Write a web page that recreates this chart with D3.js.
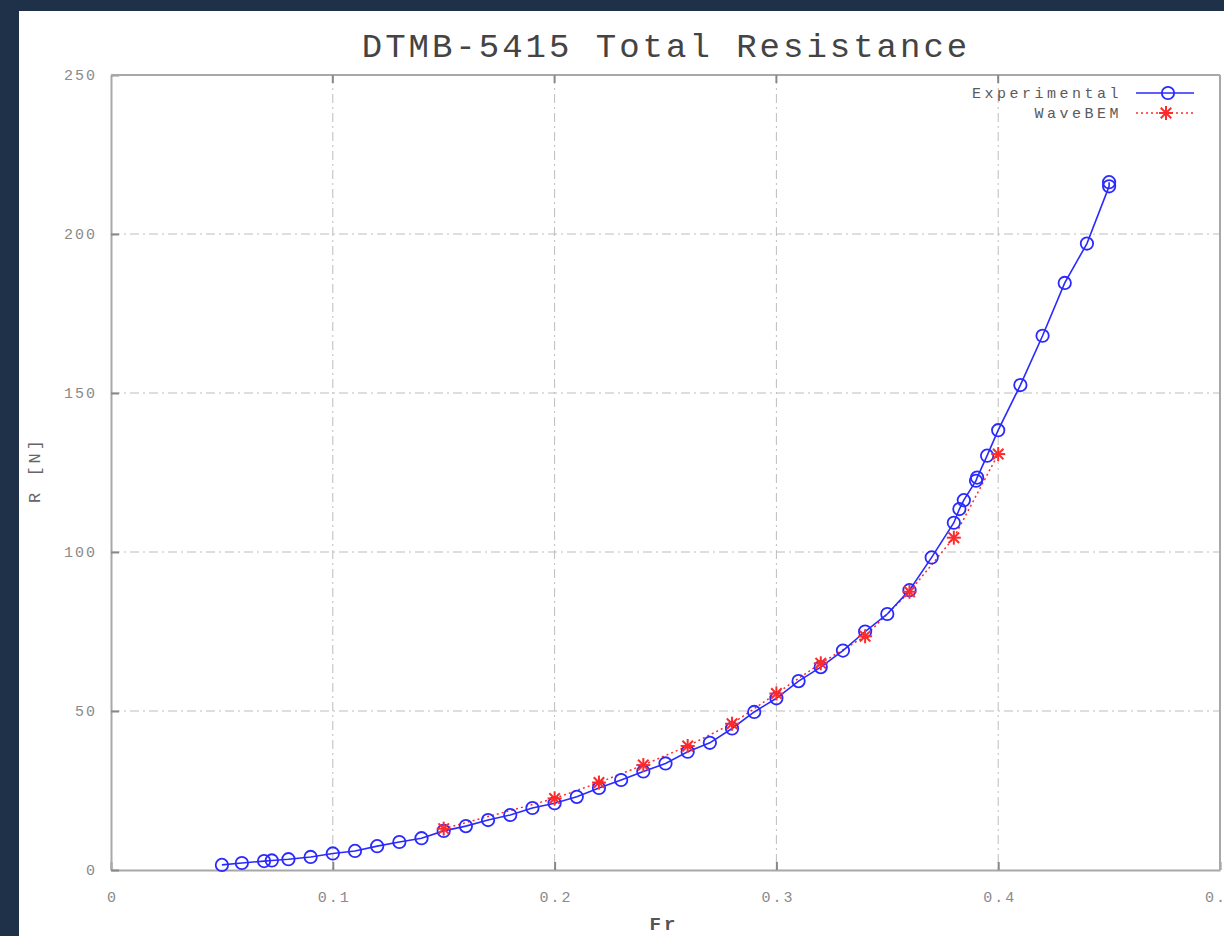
<!DOCTYPE html>
<html><head><meta charset="utf-8">
<script src="https://cdn.jsdelivr.net/npm/d3@7"></script>
<style>body{margin:0;background:#1f3148;}svg{display:block;}</style>
</head><body>
<svg id="c" width="1224" height="936"></svg>
<script>
const title = "DTMB-5415 Total Resistance";
const xLabel = "Fr";
const yLabel = "R [N]";
const xTicks = [0, 0.1, 0.2, 0.3, 0.4, 0.5];
const xTickLabels = ["0", "0.1", "0.2", "0.3", "0.4", "0.5"];
const yTicks = [0, 50, 100, 150, 200, 250];
const seriesNames = ["Experimental", "WaveBEM"];
const expFr = [0.05, 0.059, 0.069, 0.0725, 0.08, 0.09, 0.10, 0.11, 0.12, 0.13, 0.14, 0.15, 0.16, 0.17, 0.18, 0.19, 0.20, 0.21, 0.22, 0.23, 0.24, 0.25, 0.26, 0.27, 0.28, 0.29, 0.30, 0.31, 0.32, 0.33, 0.34, 0.35, 0.36, 0.37, 0.38, 0.3825, 0.3845, 0.39, 0.3905, 0.395, 0.40, 0.41, 0.42, 0.43, 0.44, 0.45, 0.45];
const expR  = [1.6, 2.2, 2.8, 3.0, 3.4, 4.1, 5.2, 6.0, 7.5, 8.8, 10.0, 12.3, 13.8, 15.7, 17.3, 19.5, 21.0, 23.0, 25.8, 28.3, 31.0, 33.5, 37.2, 40.0, 44.5, 49.7, 54.0, 59.4, 63.8, 69.0, 75.0, 80.5, 88.0, 98.3, 109.2, 113.5, 116.3, 122.4, 123.4, 130.3, 138.3, 152.5, 168.0, 184.6, 197.0, 215.0, 216.3];
const bemFr = [0.15, 0.20, 0.22, 0.24, 0.26, 0.28, 0.30, 0.32, 0.34, 0.36, 0.38, 0.40];
const bemR  = [13.0, 22.5, 27.5, 33.0, 39.0, 46.0, 55.5, 65.0, 73.5, 87.5, 104.5, 130.8];

const svg = d3.select("#c");
svg.append("rect").attr("x", 19).attr("y", 11).attr("width", 1224-19).attr("height", 936-11).attr("fill", "#ffffff");

const L = 111, R = 1220, T = 75, B = 870;
const x = d3.scaleLinear().domain([0, 0.5]).range([L, R]);
const y = d3.scaleLinear().domain([0, 250]).range([B, T]);
const font = "'Liberation Mono', 'DejaVu Sans Mono', monospace";

const g = svg.append("g");
g.selectAll(".gx").data(xTicks.slice(1, -1)).join("line")
  .attr("x1", d => x(d)).attr("x2", d => x(d)).attr("y1", T).attr("y2", B)
  .attr("stroke", "#bdbdbd").attr("stroke-width", 1).attr("stroke-dasharray", "9,4,2,4");
g.selectAll(".gy").data(yTicks.slice(1, -1)).join("line")
  .attr("y1", d => y(d)).attr("y2", d => y(d)).attr("x1", L).attr("x2", R)
  .attr("stroke", "#bdbdbd").attr("stroke-width", 1).attr("stroke-dasharray", "9,4,2,4");

const xAxis = d3.axisBottom(x).tickValues(xTicks).tickFormat((d, i) => xTickLabels[i]).tickSizeInner(-8).tickSizeOuter(0).tickPadding(21);
const yAxis = d3.axisLeft(y).tickValues(yTicks).tickSizeInner(-8).tickSizeOuter(0).tickPadding(14);
const xa = svg.append("g").attr("transform", `translate(0,${B})`).call(xAxis);
const ya = svg.append("g").attr("transform", `translate(${L},0)`).call(yAxis);
[xa, ya].forEach(a => {
  a.select(".domain").attr("stroke", "#a8a8a8").attr("stroke-width", 2);
  a.selectAll(".tick line").attr("stroke", "#888").attr("stroke-width", 2);
  a.selectAll(".tick text").attr("fill", "#8a8a8a").style("font-family", font).style("font-size", "15px").style("letter-spacing", "2px");
});
xa.selectAll(".tick text").attr("dx", "1px");
svg.append("line").attr("x1", L).attr("x2", R).attr("y1", T).attr("y2", T).attr("stroke", "#a8a8a8").attr("stroke-width", 2);
svg.append("line").attr("x1", R).attr("x2", R).attr("y1", T).attr("y2", B).attr("stroke", "#a8a8a8").attr("stroke-width", 2);
svg.selectAll(".tt").data(xTicks.slice(1, -1)).join("line")
  .attr("x1", d => x(d)).attr("x2", d => x(d)).attr("y1", T).attr("y2", T + 8)
  .attr("stroke", "#888").attr("stroke-width", 2);

svg.append("text").attr("x", 666).attr("y", 57).attr("text-anchor", "middle")
  .style("font-family", font).style("font-size", "34px").style("letter-spacing", "3px").attr("fill", "#444").text(title);
svg.append("text").attr("x", 664).attr("y", 930).attr("text-anchor", "middle")
  .style("font-family", font).style("font-size", "19px").style("font-weight", "bold").style("letter-spacing", "3px").attr("fill", "#555").text(xLabel);
svg.append("text").attr("transform", "translate(40,470) rotate(-90)").attr("text-anchor", "middle")
  .style("font-family", font).style("font-size", "17px").style("letter-spacing", "3px").attr("fill", "#666").text(yLabel);

const blue = "#2a2aff", red = "#ff2a2a";
const expData = expFr.map((f, i) => [f, expR[i]]);
const bemData = bemFr.map((f, i) => [f, bemR[i]]);
const line = d3.line().x(d => x(d[0])).y(d => y(d[1]));

svg.append("path").datum(bemData).attr("d", line).attr("fill", "none")
  .attr("stroke", red).attr("stroke-width", 1.5).attr("stroke-dasharray", "2,3");
svg.append("path").datum(expData).attr("d", line).attr("fill", "none")
  .attr("stroke", blue).attr("stroke-width", 1.6);
svg.selectAll(".ec").data(expData).join("circle")
  .attr("cx", d => x(d[0])).attr("cy", d => y(d[1])).attr("r", 6.2)
  .attr("fill", "none").attr("stroke", blue).attr("stroke-width", 1.8);

const star = (sel, cx, cy, s) => {
  const gg = sel.append("g").attr("transform", `translate(${cx},${cy})`).attr("stroke", red).attr("stroke-width", 2);
  gg.append("line").attr("x1", -s).attr("x2", s).attr("y1", 0).attr("y2", 0);
  gg.append("line").attr("x1", 0).attr("x2", 0).attr("y1", -s).attr("y2", s);
  gg.append("line").attr("x1", -s*0.75).attr("x2", s*0.75).attr("y1", -s*0.75).attr("y2", s*0.75);
  gg.append("line").attr("x1", -s*0.75).attr("x2", s*0.75).attr("y1", s*0.75).attr("y2", -s*0.75);
};
bemData.forEach(d => star(svg, x(d[0]), y(d[1]), 7));

const lg = svg.append("g");
lg.append("text").attr("x", 1122).attr("y", 98).attr("text-anchor", "end")
  .style("font-family", font).style("font-size", "15px").style("letter-spacing", "3.5px").attr("fill", "#5a5a5a").text(seriesNames[0]);
lg.append("text").attr("x", 1122).attr("y", 118).attr("text-anchor", "end")
  .style("font-family", font).style("font-size", "15px").style("letter-spacing", "3.5px").attr("fill", "#5a5a5a").text(seriesNames[1]);
lg.append("line").attr("x1", 1136).attr("x2", 1194).attr("y1", 93).attr("y2", 93).attr("stroke", blue).attr("stroke-width", 1.6);
lg.append("circle").attr("cx", 1168).attr("cy", 93).attr("r", 6.2).attr("fill", "none").attr("stroke", blue).attr("stroke-width", 1.8);
lg.append("line").attr("x1", 1136).attr("x2", 1194).attr("y1", 113).attr("y2", 113).attr("stroke", red).attr("stroke-width", 1.5).attr("stroke-dasharray", "2,3");
star(lg, 1166, 113, 7);
</script>
</body></html>
